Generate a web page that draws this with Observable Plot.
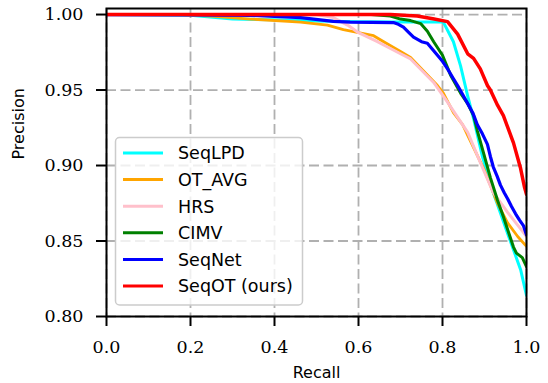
<!DOCTYPE html>
<html>
<head>
<meta charset="utf-8">
<script src="https://cdn.jsdelivr.net/npm/d3@7"></script>
<script src="https://cdn.jsdelivr.net/npm/@observablehq/plot@0.6"></script>
<style>
  html, body { margin: 0; padding: 0; background: #fff; }
  #chart { width: 548px; height: 383px; }
</style>
</head>
<body>
<div id="chart"></div>
<script>
// ---- data ----
const seriesNames = ["SeqLPD", "OT_AVG", "HRS", "CIMV", "SeqNet", "SeqOT (ours)"];
const seriesColors = ["#00ffff", "#ffa500", "#ffc0cb", "#008000", "#0000ff", "#ff0000"];

const recallSeqLPD = [0, 0.2, 0.3, 0.4, 0.5, 0.6, 0.7, 0.8, 0.802, 0.826, 0.843, 0.86, 0.874, 0.895, 0.921, 0.955, 0.986, 1.0];
const precSeqLPD   = [1, 0.9995, 0.997, 0.9965, 0.9957, 0.9953, 0.995, 0.995, 0.995, 0.982, 0.966, 0.946, 0.931, 0.906, 0.882, 0.855, 0.831, 0.814];

const recallOTAVG = [0, 0.18, 0.25, 0.343, 0.462, 0.526, 0.564, 0.6, 0.636, 0.66, 0.7, 0.724, 0.788, 0.802, 0.826, 0.848, 0.86, 0.898, 0.931, 0.955, 0.979, 1.0];
const precOTAVG   = [1, 1, 0.999, 0.997, 0.995, 0.993, 0.990, 0.988, 0.986, 0.982, 0.9756, 0.9716, 0.953, 0.948, 0.935, 0.927, 0.920, 0.898, 0.875, 0.862, 0.853, 0.8465];

const recallHRS = [0, 0.5, 0.54, 0.574, 0.6, 0.645, 0.7, 0.724, 0.779, 0.812, 0.86, 0.89, 0.921, 0.955, 0.986, 1.0];
const precHRS   = [1, 1, 0.998, 0.993, 0.988, 0.982, 0.974, 0.9706, 0.955, 0.942, 0.922, 0.902, 0.882, 0.869, 0.858, 0.853];

const recallCIMV = [0, 0.63, 0.676, 0.7, 0.724, 0.748, 0.764, 0.779, 0.8, 0.819, 0.843, 0.86, 0.874, 0.883, 0.898, 0.914, 0.931, 0.945, 0.957, 0.969, 0.976, 0.99, 1.0];
const precCIMV   = [1, 1, 0.999, 0.997, 0.996, 0.994, 0.989, 0.982, 0.973, 0.960, 0.948, 0.941, 0.933, 0.923, 0.908, 0.892, 0.877, 0.866, 0.856, 0.846, 0.842, 0.839, 0.833];

const recallSeqNet = [0, 0.2, 0.343, 0.462, 0.54, 0.58, 0.683, 0.695, 0.707, 0.72, 0.731, 0.75, 0.764, 0.776, 0.788, 0.80, 0.812, 0.825, 0.836, 0.848, 0.86, 0.872, 0.883, 0.895, 0.907, 0.914, 0.921, 0.93, 0.938, 0.947, 0.955, 0.964, 0.974, 0.983, 0.993, 1.0];
const precSeqNet   = [1, 0.9998, 0.9995, 0.998, 0.9955, 0.995, 0.9947, 0.9935, 0.9916, 0.988, 0.985, 0.982, 0.981, 0.977, 0.973, 0.969, 0.964, 0.958, 0.953, 0.947, 0.941, 0.935, 0.927, 0.921, 0.914, 0.906, 0.899, 0.893, 0.887, 0.882, 0.878, 0.873, 0.868, 0.864, 0.860, 0.854];

const recallSeqOT = [0, 0.676, 0.74, 0.78, 0.812, 0.836, 0.86, 0.874, 0.89, 0.907, 0.914, 0.931, 0.945, 0.969, 0.986, 0.995, 1.0];
const precSeqOT   = [1, 1, 0.999, 0.997, 0.9953, 0.987, 0.974, 0.971, 0.964, 0.953, 0.950, 0.940, 0.933, 0.915, 0.898, 0.886, 0.881];

const xTicks = [0, 0.2, 0.4, 0.6, 0.8, 1.0];
const xTickLabels = ["0.0", "0.2", "0.4", "0.6", "0.8", "1.0"];
const yTicks = [0.80, 0.85, 0.90, 0.95, 1.00];
const yTickLabels = ["0.80", "0.85", "0.90", "0.95", "1.00"];

const xLabel = "Recall";
const yLabel = "Precision";

// ---- build table ----
const recalls = [recallSeqLPD, recallOTAVG, recallHRS, recallCIMV, recallSeqNet, recallSeqOT];
const precs = [precSeqLPD, precOTAVG, precHRS, precCIMV, precSeqNet, precSeqOT];
const widths = [3, 2.8, 3, 3, 3.2, 3.5];

const lineMarks = seriesNames.map((name, s) => {
  const rows = recalls[s].map((r, i) => ({recall: r, precision: precs[s][i], series: name}));
  return Plot.line(rows, {x: "recall", y: "precision", stroke: seriesColors[s], strokeWidth: widths[s], clip: true, strokeLinejoin: "round"});
});

const sans = "DejaVu Sans";
const serif = "DejaVu Serif";

const chart = Plot.plot({
  width: 548,
  height: 383,
  marginLeft: 106,
  marginRight: 22,
  marginTop: 8,
  marginBottom: 67,
  style: {fontFamily: serif, fontSize: "17.5px", color: "#000", background: "#fff"},
  x: {domain: [0, 1]},
  y: {domain: [0.8, 1.004]},
  marks: [
    Plot.ruleX(xTicks, {stroke: "#b0b0b0", strokeWidth: 1.8, strokeDasharray: "10,4.5"}),
    Plot.ruleY(yTicks, {stroke: "#b0b0b0", strokeWidth: 1.8, strokeDasharray: "10,4.5"}),
    ...lineMarks,
    Plot.frame({stroke: "#000", strokeWidth: 2}),
    Plot.axisX({ticks: xTicks, tickFormat: d => xTickLabels[xTicks.indexOf(d)], tickSize: 10, tickPadding: 14, strokeWidth: 2, label: null, fontSize: 17.5, fontFamily: serif, fill: "#000"}),
    Plot.axisY({ticks: yTicks, tickFormat: d => yTickLabels[yTicks.findIndex(t => Math.abs(t - d) < 1e-9)], tickSize: 10, tickPadding: 13, strokeWidth: 2, label: null, fontSize: 17.5, fontFamily: serif, fill: "#000"}),
    Plot.text([xLabel], {frameAnchor: "bottom", dy: 61, fontSize: 16, fontFamily: sans, fill: "#000"}),
    Plot.text([yLabel], {frameAnchor: "left", dx: -87.5, dy: -3, rotate: -90, fontSize: 16, fontFamily: sans, fill: "#000"})
  ]
});

document.getElementById("chart").appendChild(chart);

// ---- legend (inside the axes, lower-left) ----
const svg = d3.select(chart);
const lg = svg.append("g").attr("class", "legend").attr("text-anchor", "start");
lg.append("rect")
  .attr("x", 115.5).attr("y", 137.5).attr("width", 187).attr("height", 167.5)
  .attr("rx", 4).attr("ry", 4)
  .attr("fill", "#fff").attr("fill-opacity", 0.8)
  .attr("stroke", "#cccccc").attr("stroke-width", 1.5);
const rowY0 = 153, rowStep = 26.6;
seriesNames.forEach((name, i) => {
  const y = rowY0 + i * rowStep;
  lg.append("line").attr("x1", 123).attr("x2", 163).attr("y1", y).attr("y2", y)
    .attr("stroke", seriesColors[i]).attr("stroke-width", 3);
  lg.append("text").attr("x", 178).attr("y", y).attr("dy", "0.36em")
    .attr("text-anchor", "start")
    .attr("font-family", sans).attr("font-size", 17.5).attr("fill", "#000")
    .text(name);
});
</script>
</body>
</html>
